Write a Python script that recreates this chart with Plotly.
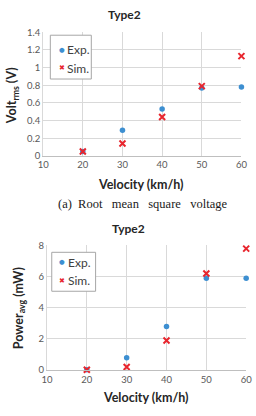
import plotly.graph_objects as go

velocity = [20, 30, 40, 50, 60]
volt_exp = [0.05, 0.29, 0.53, 0.77, 0.78]
volt_sim = [0.05, 0.14, 0.44, 0.79, 1.13]
power_exp = [0.02, 0.8, 2.8, 5.9, 5.9]
power_sim = [0.02, 0.2, 1.9, 6.2, 7.8]
series_names = ["Exp.", "Sim."]

W, H = 256, 416
BLUE = "#3d8fd1"
RED = "#e8262e"
FONT = "Lato"
TICK = "#595959"
GRID = "#d9d9d9"

exp_marker = dict(symbol="circle", size=5.5, color=BLUE)
sim_marker = dict(symbol="x-thin", size=6, color=RED, line=dict(width=2, color=RED))

fig = go.Figure()
fig.add_trace(go.Scatter(x=velocity, y=volt_exp, mode="markers", name=series_names[0],
                         marker=exp_marker, cliponaxis=False, xaxis="x", yaxis="y"))
fig.add_trace(go.Scatter(x=velocity, y=volt_sim, mode="markers", name=series_names[1],
                         marker=sim_marker, cliponaxis=False, xaxis="x", yaxis="y"))
fig.add_trace(go.Scatter(x=velocity, y=power_exp, mode="markers", name=series_names[0],
                         marker=exp_marker, cliponaxis=False, xaxis="x2", yaxis="y2"))
fig.add_trace(go.Scatter(x=velocity, y=power_sim, mode="markers", name=series_names[1],
                         marker=sim_marker, cliponaxis=False, xaxis="x2", yaxis="y2"))

def px(v):
    return v / W

def py(v):
    return 1 - v / H

axfont = dict(family=FONT, size=9.5, color=TICK)
common_x = dict(range=[10, 60], dtick=10, tick0=10, showgrid=True, gridcolor=GRID, gridwidth=1,
                zeroline=False, showline=True, linecolor="#bfbfbf", ticks="", tickfont=axfont,
                fixedrange=True)
common_y = dict(showgrid=True, gridcolor=GRID, gridwidth=1, zeroline=False, showline=True,
                linecolor=GRID, ticks="", tickfont=axfont, fixedrange=True)

fig.update_layout(
    width=W, height=H,
    margin=dict(l=0, r=0, t=0, b=0),
    paper_bgcolor="white", plot_bgcolor="white",
    showlegend=False,
    xaxis=dict(domain=[px(39), px(247)], anchor="y", **common_x),
    yaxis=dict(domain=[py(154), py(27)], anchor="x", range=[0, 1.4], dtick=0.2, **common_y),
    xaxis2=dict(domain=[px(43), px(252)], anchor="y2", **common_x),
    yaxis2=dict(domain=[py(374), py(246)], anchor="x2", range=[0, 8], dtick=2, **common_y),
)

ann = []
shapes = []

# Custom compact legends (box + symbol + label)
def legend(x0, y0, x1, y1, mx, tx, rows):
    shapes.append(dict(type="rect", xref="paper", yref="paper",
                       x0=px(x0), x1=px(x1), y0=py(y1), y1=py(y0),
                       line=dict(color="#a6a6a6", width=1), fillcolor="white", layer="above"))
    syms = [("●", BLUE, 6.5), ("✖", RED, 7)]
    for (sym, col, sz), ry, name in zip(syms, rows, series_names):
        ann.append(dict(text=sym, x=px(mx), y=py(ry), xref="paper", yref="paper", showarrow=False,
                        font=dict(family="DejaVu Sans", size=sz, color=col),
                        xanchor="center", yanchor="middle"))
        ann.append(dict(text=name, x=px(tx), y=py(ry), xref="paper", yref="paper", showarrow=False,
                        font=dict(family=FONT, size=12, color="#404040"),
                        xanchor="left", yanchor="middle"))

legend(46.5, 30, 89.5, 75, 59, 62, [45, 64])
legend(48, 253, 94, 293, 59, 63, [263, 282])

title_font = dict(family=FONT, size=12, color="#262626")
ann.append(dict(text="<b>Type2</b>", x=px(124), y=py(9), xref="paper", yref="paper",
                showarrow=False, font=title_font, xanchor="center", yanchor="middle"))
ann.append(dict(text="<b>Type2</b>", x=px(128), y=py(229), xref="paper", yref="paper",
                showarrow=False, font=title_font, xanchor="center", yanchor="middle"))
axt_font = dict(family=FONT, size=12.5, color="#262626")
ann.append(dict(text="<b>Velocity (km/h)</b>", x=px(142), y=py(183), xref="paper", yref="paper",
                showarrow=False, font=axt_font, xanchor="center", yanchor="middle"))
ann.append(dict(text="<b>Velocity (km/h)</b>", x=px(147), y=py(402), xref="paper", yref="paper",
                showarrow=False, font=axt_font, xanchor="center", yanchor="middle"))
ann.append(dict(text="<b>Volt<sub>rms</sub> (V)</b>", x=px(7), y=py(92), xref="paper", yref="paper",
                showarrow=False, font=axt_font, textangle=-90, xanchor="center", yanchor="middle"))
ann.append(dict(text="<b>Power<sub>avg</sub> (mW)</b>", x=px(14), y=py(310), xref="paper", yref="paper",
                showarrow=False, font=axt_font, textangle=-90, xanchor="center", yanchor="middle"))
ann.append(dict(text="(a)&nbsp;&nbsp;Root&nbsp;&nbsp;&nbsp;mean&nbsp;&nbsp;&nbsp;square&nbsp;&nbsp;&nbsp;voltage",
                x=px(143), y=py(203), xref="paper", yref="paper", showarrow=False,
                font=dict(family="Liberation Serif", size=12.5, color="#1a1a1a"),
                xanchor="center", yanchor="middle"))
fig.update_layout(annotations=ann, shapes=shapes)

fig.write_html("out.html")
